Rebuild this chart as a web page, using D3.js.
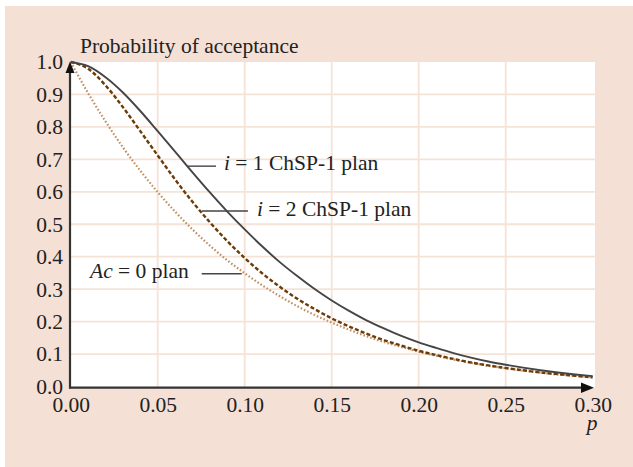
<!DOCTYPE html>
<html><head><meta charset="utf-8">
<script src="https://cdn.jsdelivr.net/npm/d3@7"></script>
<style>body{margin:0;background:#fff}svg{display:block}</style>
</head><body>
<script>
// Fraction defective p
const pValues = [0.00,0.01,0.02,0.03,0.04,0.05,0.06,0.07,0.08,0.09,0.10,0.11,0.12,0.13,0.14,0.15,0.16,0.17,0.18,0.19,0.20,0.21,0.22,0.23,0.24,0.25,0.26,0.27,0.28,0.29,0.30];
// Probability of acceptance
const pa_i1 = [1.000,0.987,0.953,0.906,0.849,0.787,0.724,0.660,0.598,0.539,0.484,0.432,0.384,0.341,0.301,0.265,0.233,0.204,0.179,0.156,0.136,0.119,0.103,0.089,0.077,0.067,0.058,0.050,0.043,0.037,0.032];
const pa_i2 = [1.000,0.979,0.928,0.861,0.787,0.712,0.638,0.569,0.506,0.448,0.396,0.349,0.308,0.271,0.239,0.210,0.185,0.163,0.143,0.126,0.110,0.097,0.085,0.074,0.065,0.057,0.050,0.043,0.038,0.033,0.028];
const pa_ac0 = [1.000,0.904,0.817,0.737,0.665,0.599,0.539,0.484,0.434,0.389,0.349,0.312,0.279,0.248,0.221,0.197,0.175,0.155,0.137,0.122,0.107,0.095,0.083,0.073,0.064,0.056,0.049,0.043,0.037,0.033,0.028];
const xTicks = [0.00,0.05,0.10,0.15,0.20,0.25,0.30];
const yTicks = [0.0,0.1,0.2,0.3,0.4,0.5,0.6,0.7,0.8,0.9,1.0];

const W = 633, H = 467;
const FS = 21.5;
const svg = d3.select("body").append("svg").attr("width", W).attr("height", H);
const font = "'Liberation Serif','Times New Roman',serif";

svg.append("rect").attr("x",5).attr("y",6).attr("width",W-5).attr("height",H-6).attr("fill","#f5e0d5");

const x = d3.scaleLinear().domain([0,0.30]).range([70.7,592.7]);
const y = d3.scaleLinear().domain([0,1]).range([386.5,62]);

svg.append("rect").attr("x",70).attr("y",62).attr("width",525).attr("height",326).attr("fill","#ffffff");

const grid = svg.append("g").attr("stroke","#f5e3d7").attr("stroke-width",1.8);
grid.selectAll("line.v").data(xTicks.slice(1,-1)).join("line")
  .attr("x1",d=>x(d)).attr("x2",d=>x(d)).attr("y1",62).attr("y2",388);
grid.selectAll("line.h").data(yTicks.slice(1,-1)).join("line")
  .attr("x1",70).attr("x2",595).attr("y1",d=>y(d)).attr("y2",d=>y(d));

const line = vals => d3.line().x((d,i)=>x(pValues[i])).y(d=>y(d)).curve(d3.curveMonotoneX)(vals);

svg.append("path").attr("d",line(pa_ac0)).attr("fill","none")
  .attr("stroke","#c09064").attr("stroke-width",2.2).attr("stroke-dasharray","1.6,2").attr("stroke-linecap","butt");
svg.append("path").attr("d",line(pa_i2)).attr("fill","none")
  .attr("stroke","#6b3c08").attr("stroke-width",2.4).attr("stroke-dasharray","4,2.2");
svg.append("path").attr("d",line(pa_i1)).attr("fill","none")
  .attr("stroke","#454545").attr("stroke-width",1.9);

// axes
const axisColor = "#333333";
const xAxis = d3.axisBottom(x).tickValues(xTicks).tickFormat(d3.format(".2f")).tickSize(0).tickPadding(9);
const gx = svg.append("g").attr("transform",`translate(0,${y(0)+1.5})`).call(xAxis);
gx.select(".domain").remove();
gx.selectAll("text").attr("font-family",font).attr("font-size",FS).attr("fill","#222");

const yAxis = d3.axisLeft(y).tickValues(yTicks).tickFormat(d3.format(".1f")).tickSize(0).tickPadding(7);
const gy = svg.append("g").attr("transform","translate(70,0)").call(yAxis);
gy.select(".domain").remove();
gy.selectAll("text").attr("font-family",font).attr("font-size",FS).attr("fill","#222").attr("dy","0.32em");

svg.append("line").attr("x1",70).attr("x2",70).attr("y1",70).attr("y2",388.5).attr("stroke",axisColor).attr("stroke-width",2.2);
svg.append("line").attr("x1",69).attr("x2",584).attr("y1",387.7).attr("y2",387.7).attr("stroke",axisColor).attr("stroke-width",2.2);
svg.append("path").attr("d","M70,61.5 L65.5,73 L74.5,73 Z").attr("fill","#111");
svg.append("path").attr("d","M594,387.7 L581,382.5 L581,392.9 Z").attr("fill","#111");

svg.append("text").attr("x",80).attr("y",53).attr("font-family",font).attr("font-size",FS).attr("fill","#222")
  .text("Probability of acceptance");
svg.append("text").attr("x",592).attr("y",430).attr("text-anchor","middle").attr("font-family",font)
  .attr("font-size",FS).attr("font-style","italic").attr("fill","#222").text("p");

// annotations
const ann = [
  {p:0.0674, v:0.679, len:28, tx:224, ty:170, pre:"i", post:" = 1 ChSP-1 plan"},
  {p:0.0754, v:0.541, len:46, tx:257, ty:216, pre:"i", post:" = 2 ChSP-1 plan"}
];
ann.forEach(a=>{
  svg.append("line").attr("x1",x(a.p)).attr("x2",x(a.p)+a.len).attr("y1",y(a.v)).attr("y2",y(a.v))
    .attr("stroke","#444").attr("stroke-width",1.4);
  const t = svg.append("text").attr("x",a.tx).attr("y",a.ty).attr("font-family",font).attr("font-size",FS).attr("fill","#222");
  t.append("tspan").attr("font-style","italic").text(a.pre);
  t.append("tspan").text(a.post);
});
svg.append("line").attr("x1",201.7).attr("x2",241.7).attr("y1",y(0.349)+0.5).attr("y2",y(0.349)+0.5)
  .attr("stroke","#444").attr("stroke-width",1.4);
const t3 = svg.append("text").attr("x",90).attr("y",278).attr("font-family",font).attr("font-size",FS).attr("fill","#222");
t3.append("tspan").attr("font-style","italic").text("Ac");
t3.append("tspan").text(" = 0 plan");
</script>
</body></html>
